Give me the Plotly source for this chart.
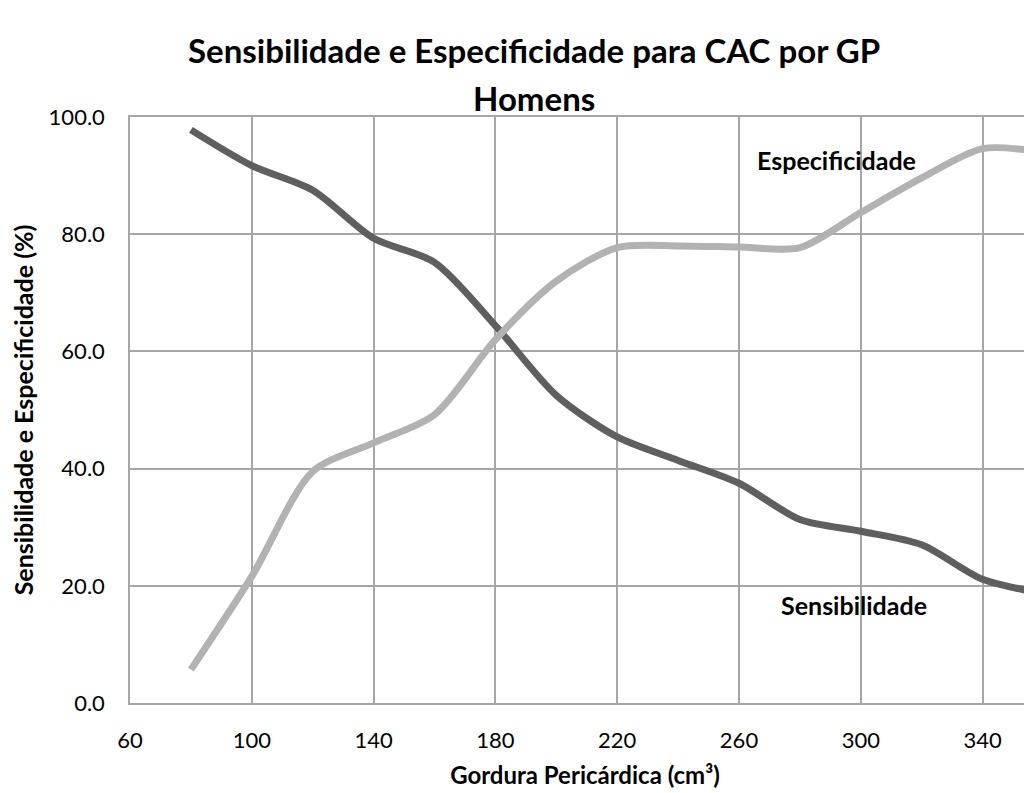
import plotly.graph_objects as go

gordura = [80, 100, 120, 140, 160, 180, 200, 220, 240, 260, 280, 300, 320, 340, 360]
sensibilidade = [97.8, 91.7, 87.5, 79.3, 75.2, 64.4, 52.5, 45.4, 41.4, 37.5, 31.3, 29.3, 27.0, 21.1, 18.7]
especificidade = [5.7, 21.6, 39.5, 44.4, 49.2, 62.0, 72.0, 77.7, 78.0, 77.8, 77.7, 83.7, 89.6, 94.6, 94.0]

x_ticks = [60, 100, 140, 180, 220, 260, 300, 340]
y_ticks = [0, 20, 40, 60, 80, 100]

FONT = "Lato"

fig = go.Figure()
fig.add_trace(go.Scatter(x=gordura, y=sensibilidade, mode="lines", name="Sensibilidade",
                         line=dict(color="#5f5f5f", width=7, shape="spline", smoothing=0.8)))
fig.add_trace(go.Scatter(x=gordura, y=especificidade, mode="lines", name="Especificidade",
                         line=dict(color="#b2b2b2", width=7, shape="spline", smoothing=0.8)))

fig.add_annotation(x=292.0, y=92.7, text="<b>Especificidade</b>", showarrow=False,
                   font=dict(family=FONT, size=25, color="black"))
fig.add_annotation(x=297.8, y=16.7, text="<b>Sensibilidade</b>", showarrow=False,
                   font=dict(family=FONT, size=25, color="black"))

# title lines
fig.add_annotation(xref="paper", yref="paper", x=0.444, y=1.114, yanchor="middle",
                   text="<b>Sensibilidade e Especificidade para CAC por GP</b>", showarrow=False,
                   font=dict(family=FONT, size=33, color="black"))
fig.add_annotation(xref="paper", yref="paper", x=0.444, y=1.032, yanchor="middle",
                   text="<b>Homens</b>", showarrow=False,
                   font=dict(family=FONT, size=33, color="black"))

fig.update_layout(
    width=1032, height=793,
    margin=dict(l=122, r=0, t=109, b=98),
    paper_bgcolor="white", plot_bgcolor="white",
    showlegend=False,
    font=dict(family=FONT, size=22, color="black"),
)
fig.update_xaxes(range=[60, 358.85], tickvals=x_ticks, ticks="", showgrid=True, automargin=False,
                 gridcolor="#a6a6a6", gridwidth=1.5, zeroline=False,
                 showline=True, linecolor="#a6a6a6", linewidth=1.5, mirror=True,
                 tickfont=dict(family=FONT, size=22), ticklabelstandoff=17,
                 title=dict(text="<b>Gordura Pericárdica (cm³)</b>", standoff=15,
                            font=dict(family=FONT, size=24)))
fig.update_yaxes(range=[0, 100], tickvals=y_ticks, tickformat=".1f", ticks="", showgrid=True, automargin=False,
                 gridcolor="#a6a6a6", gridwidth=1.5, zeroline=False,
                 showline=True, linecolor="#a6a6a6", linewidth=1.5, mirror=True,
                 tickfont=dict(family=FONT, size=22), ticklabelstandoff=19,
                 title=dict(text="<b>Sensibilidade e Especificidade (%)</b>", standoff=9,
                            font=dict(family=FONT, size=25)))

fig.write_html("out.html")
